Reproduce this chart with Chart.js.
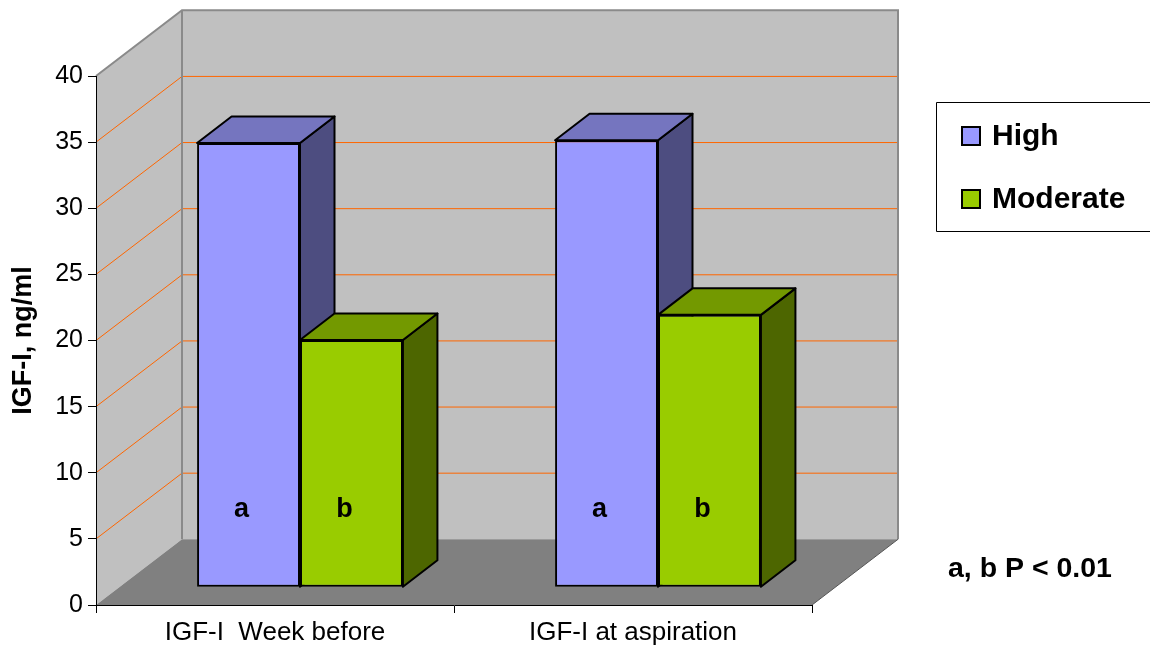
<!DOCTYPE html>
<html>
<head>
<meta charset="utf-8">
<script src="https://cdn.jsdelivr.net/npm/chart.js@4.4.1/dist/chart.umd.min.js"></script>
<style>
  html, body { margin: 0; padding: 0; background: #fff; }
  #wrap { width: 1150px; height: 654px; position: relative; }
</style>
</head>
<body>
<div id="wrap"><canvas id="chart"></canvas></div>
<script>
// ---- data ----
const categories = ['IGF-I  Week before', 'IGF-I at aspiration'];
const seriesNames = ['High', 'Moderate'];
const highValues = [33.6, 33.8];
const moderateValues = [18.7, 20.6];
const highLetters = ['a', 'a'];
const moderateLetters = ['b', 'b'];
const yTickValues = [0, 5, 10, 15, 20, 25, 30, 35, 40];
const yAxisTitle = 'IGF-I, ng/ml';
const footnote = 'a, b P < 0.01';

// ---- styling ----
const FONT = "'Liberation Sans', Arial, sans-serif";
const frontColors = ['#9999FF', '#99CC00'];
const topColors = ['#7575BF', '#739900'];
const sideColors = ['#4D4D80', '#4D6600'];
const wallDepth = { dx: 86, dy: -65.7 };   // depth of the box (walls / floor)
const barShift = { dx: 25, dy: -17.7 };    // bars sit a little way into the box
const barDepth = { dx: 34.5, dy: -26.5 };  // thickness of each bar

function poly(ctx, pts) {
  ctx.beginPath();
  ctx.moveTo(pts[0][0], pts[0][1]);
  for (let i = 1; i < pts.length; i++) ctx.lineTo(pts[i][0], pts[i][1]);
  ctx.closePath();
}

const box3d = {
  id: 'box3d',
  beforeDraw(chart) {
    const { ctx, chartArea: a, scales: { y } } = chart;
    const y0 = y.getPixelForValue(0);
    const yTop = y.getPixelForValue(y.max);
    const L = a.left, R = a.right, dx = wallDepth.dx, dy = wallDepth.dy;
    ctx.save();
    // back wall
    ctx.fillStyle = '#C0C0C0';
    ctx.fillRect(L + dx, yTop + dy, R - L, y0 - yTop);
    // side wall
    poly(ctx, [[L, yTop], [L + dx, yTop + dy], [L + dx, y0 + dy], [L, y0]]);
    ctx.fill();
    // floor
    ctx.fillStyle = '#808080';
    poly(ctx, [[L, y0], [L + dx, y0 + dy], [R + dx, y0 + dy], [R, y0]]);
    ctx.fill();
    // gridlines along side wall and back wall
    ctx.strokeStyle = '#FF6600';
    ctx.lineWidth = 1;
    y.ticks.forEach(t => {
      if (t.value <= 0 || t.value >= y.max) return;
      const py = y.getPixelForValue(t.value);
      ctx.beginPath();
      ctx.moveTo(L, py);
      ctx.lineTo(L + dx, py + dy);
      ctx.lineTo(R + dx, py + dy);
      ctx.stroke();
    });
    // wall edges
    ctx.strokeStyle = '#8A8A8A';
    ctx.lineWidth = 2;
    ctx.beginPath();
    ctx.moveTo(L, yTop);
    ctx.lineTo(L + dx, yTop + dy);
    ctx.lineTo(R + dx, yTop + dy);
    ctx.lineTo(R + dx, y0 + dy);
    ctx.moveTo(L + dx, yTop + dy);
    ctx.lineTo(L + dx, y0 + dy);
    ctx.stroke();
    ctx.strokeStyle = '#555555';
    ctx.lineWidth = 1;
    ctx.beginPath();
    ctx.moveTo(R, y0);
    ctx.lineTo(R + dx, y0 + dy);
    ctx.stroke();
    ctx.restore();
  },
  beforeDatasetsDraw(chart) {
    const ctx = chart.ctx;
    ctx.save();
    ctx.translate(barShift.dx, barShift.dy);
    const dx = barDepth.dx, dy = barDepth.dy;
    ctx.lineWidth = 2;
    ctx.strokeStyle = '#000';
    ctx.lineJoin = 'round';
    const n = chart.data.labels.length;
    for (let i = 0; i < n; i++) {
      chart.data.datasets.forEach((ds, d) => {
        const bar = chart.getDatasetMeta(d).data[i];
        const l = bar.x - bar.width / 2, r = bar.x + bar.width / 2;
        const t = bar.y, b = bar.base;
        // right side
        poly(ctx, [[r, t], [r + dx, t + dy], [r + dx, b + dy], [r, b]]);
        ctx.fillStyle = sideColors[d];
        ctx.fill();
        ctx.stroke();
        // top
        poly(ctx, [[l, t], [l + dx, t + dy], [r + dx, t + dy], [r, t]]);
        ctx.fillStyle = topColors[d];
        ctx.fill();
        ctx.stroke();
      });
    }
  },
  afterDatasetsDraw(chart) {
    const ctx = chart.ctx;
    const letterSets = [highLetters, moderateLetters];
    ctx.fillStyle = '#000';
    ctx.font = 'bold 27px ' + FONT;
    ctx.textAlign = 'center';
    ctx.textBaseline = 'middle';
    chart.data.datasets.forEach((ds, d) => {
      chart.getDatasetMeta(d).data.forEach((bar, i) => {
        ctx.fillText(letterSets[d][i], bar.x - 7, bar.base - 77);
      });
    });
    ctx.restore();
  },
  afterDraw(chart) {
    const ctx = chart.ctx;
    ctx.save();
    // legend box (runs off the right edge)
    ctx.fillStyle = '#fff';
    ctx.fillRect(937, 103, 220, 128);
    ctx.strokeStyle = '#000';
    ctx.lineWidth = 1;
    ctx.beginPath();
    ctx.moveTo(1160, 102.5);
    ctx.lineTo(936.5, 102.5);
    ctx.lineTo(936.5, 231.5);
    ctx.lineTo(1160, 231.5);
    ctx.stroke();
    const rowY = [136, 199];
    ctx.font = 'bold 30px ' + FONT;
    ctx.textAlign = 'left';
    ctx.textBaseline = 'middle';
    chart.data.datasets.forEach((ds, d) => {
      const cy = rowY[d];
      ctx.fillStyle = ds.backgroundColor;
      ctx.fillRect(962, cy - 9, 18, 18);
      ctx.strokeStyle = '#000';
      ctx.lineWidth = 2;
      ctx.strokeRect(962, cy - 9, 18, 18);
      ctx.fillStyle = '#000';
      ctx.fillText(ds.label, 992, cy + 1);
    });
    // significance note
    ctx.font = 'bold 28.5px ' + FONT;
    ctx.fillText(footnote, 948, 569);
    ctx.restore();
  }
};

const chart = new Chart(document.getElementById('chart'), {
  type: 'bar',
  data: {
    labels: categories,
    datasets: [
      { label: seriesNames[0], data: highValues, backgroundColor: frontColors[0] },
      { label: seriesNames[1], data: moderateValues, backgroundColor: frontColors[1] }
    ]
  },
  options: {
    responsive: true,
    maintainAspectRatio: false,
    animation: false,
    events: [],
    layout: { padding: { top: 76, right: 338, left: 0, bottom: 0 } },
    datasets: {
      bar: {
        categoryPercentage: 0.575,
        barPercentage: 1,
        borderColor: '#000',
        borderWidth: 2,
        borderSkipped: false,
        clip: false
      }
    },
    plugins: {
      legend: { display: false },
      tooltip: { enabled: false }
    },
    scales: {
      x: {
        offset: true,
        grid: { offset: true, drawOnChartArea: false, drawTicks: true, tickLength: 8, color: '#000' },
        border: { display: true, color: '#000', width: 1 },
        ticks: { color: '#000', font: { family: FONT, size: 26 }, padding: 4, maxRotation: 0, autoSkip: false },
        afterFit(scale) { scale.height = 49; }
      },
      y: {
        min: 0,
        max: 40,
        afterBuildTicks(scale) { scale.ticks = yTickValues.map(v => ({ value: v })); },
        grid: { drawOnChartArea: false, drawTicks: true, tickLength: 8, color: '#000' },
        border: { display: true, color: '#000', width: 1 },
        ticks: { color: '#000', font: { family: FONT, size: 25 }, padding: 5 },
        title: {
          display: true,
          text: yAxisTitle,
          color: '#000',
          font: { family: FONT, size: 27, weight: 'bold' },
          padding: { top: 7, bottom: 0 }
        },
        afterFit(scale) { scale.width = 96; }
      }
    }
  },
  plugins: [box3d]
});
</script>
</body>
</html>
